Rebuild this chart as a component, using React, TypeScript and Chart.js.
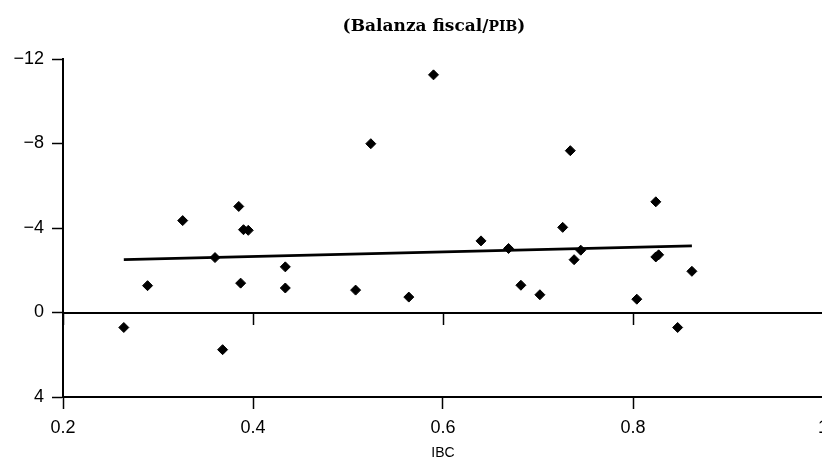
import { useEffect, useRef } from 'react';
import { Chart, registerables } from 'chart.js';

Chart.register(...registerables);

// IBC (x) and fiscal balance / GDP (y, axis reversed)
const ibc = [0.264, 0.289, 0.326, 0.360, 0.368, 0.385, 0.387, 0.390, 0.395, 0.434, 0.434, 0.508, 0.524, 0.564, 0.590, 0.640, 0.669, 0.682, 0.702, 0.726, 0.734, 0.738, 0.745, 0.804, 0.824, 0.824, 0.827, 0.847, 0.862];
const balance = [0.71, -1.27, -4.35, -2.60, 1.76, -5.02, -1.39, -3.92, -3.89, -2.16, -1.16, -1.06, -7.99, -0.73, -11.25, -3.39, -3.03, -1.29, -0.84, -4.03, -7.66, -2.50, -2.95, -0.63, -5.24, -2.63, -2.73, 0.71, -1.95];

const trendIbc = [0.264, 0.862];
const trendBalance = [-2.5, -3.15];

const xTicks = [0.2, 0.4, 0.6, 0.8, 1];
const xTickLabels = ['0.2', '0.4', '0.6', '0.8', '1'];
const yTicks = [-12, -8, -4, 0, 4];
const yTickLabels = ['\u221212', '\u22128', '\u22124', '0', '4'];

const titleMain = '(Balanza fiscal/';
const titleSmallCaps = 'PIB';
const titleEnd = ')';
const xTitle = 'IBC';

const SANS = '"Liberation Sans", Arial, sans-serif';
const SERIF = '"DejaVu Serif", serif';

const zeroLinePlugin = {
  id: 'zeroLine',
  beforeDatasetsDraw(chart: any) {
    const { ctx, scales, chartArea } = chart;
    const x = scales.x;
    const y = scales.y;
    const py = Math.round(y.getPixelForValue(0));
    ctx.save();
    ctx.strokeStyle = '#000';
    ctx.lineWidth = 2;
    ctx.beginPath();
    ctx.moveTo(chartArea.left, py);
    ctx.lineTo(chart.width, py);
    ctx.stroke();
    ctx.lineWidth = 1.5;
    xTicks.forEach((v) => {
      const px = Math.round(x.getPixelForValue(v)) + 0.5;
      ctx.beginPath();
      ctx.moveTo(px, py);
      ctx.lineTo(px, py + 12);
      ctx.stroke();
    });
    ctx.restore();
  },
};

const titlePlugin = {
  id: 'smallCapsTitle',
  afterDraw(chart: any) {
    const { ctx, chartArea } = chart;
    const bigFont = `bold 17px ${SERIF}`;
    const smallFont = `bold 14px ${SERIF}`;
    ctx.save();
    ctx.fillStyle = '#000';
    ctx.textBaseline = 'alphabetic';
    ctx.textAlign = 'left';
    ctx.font = bigFont;
    const w1 = ctx.measureText(titleMain).width;
    const w3 = ctx.measureText(titleEnd).width;
    ctx.font = smallFont;
    const w2 = ctx.measureText(titleSmallCaps).width;
    const total = w1 + w2 + w3;
    const cx = (chartArea.left + chartArea.right) / 2 - 9;
    let xPos = cx - total / 2;
    const baseY = 31;
    ctx.font = bigFont;
    ctx.fillText(titleMain, xPos, baseY);
    xPos += w1;
    ctx.font = smallFont;
    ctx.fillText(titleSmallCaps, xPos, baseY);
    xPos += w2;
    ctx.font = bigFont;
    ctx.fillText(titleEnd, xPos, baseY);
    ctx.restore();
  },
};

export default function App() {
  const canvasRef = useRef<HTMLCanvasElement | null>(null);

  useEffect(() => {
    const canvas = canvasRef.current;
    if (!canvas) return;
    const chart = new Chart(canvas, {
      type: 'scatter',
      data: {
        datasets: [
          {
            type: 'scatter',
            data: ibc.map((v, i) => ({ x: v, y: balance[i] })),
            pointStyle: 'rectRot',
            pointRadius: 5,
            backgroundColor: '#000',
            borderColor: '#000',
            borderWidth: 1,
          },
          {
            type: 'line',
            data: trendIbc.map((v, i) => ({ x: v, y: trendBalance[i] })),
            borderColor: '#000',
            borderWidth: 2.8,
            pointRadius: 0,
            fill: false,
            showLine: true,
          },
        ],
      } as any,
      options: {
        responsive: false,
        animation: false,
        devicePixelRatio: 1,
        layout: { padding: { top: 59, right: 17, left: 0, bottom: 0 } },
        plugins: {
          legend: { display: false },
          tooltip: { enabled: false },
          title: { display: false },
        },
        scales: {
          x: {
            type: 'linear',
            position: 'bottom',
            min: 0.2,
            max: 1,
            afterBuildTicks: (s: any) => {
              s.ticks = xTicks.map((v) => ({ value: v }));
            },
            afterFit: (s: any) => {
              s.height = 65;
            },
            grid: {
              display: true,
              drawOnChartArea: false,
              drawTicks: true,
              tickLength: 12,
              tickColor: '#000',
              tickWidth: 1.5,
            },
            border: { display: true, color: '#000', width: 2 },
            ticks: {
              color: '#000',
              font: { family: SANS, size: 18 },
              padding: 8,
              maxRotation: 0,
              autoSkip: false,
              callback: (v: any) => xTickLabels[xTicks.indexOf(Number(v))] ?? '',
            },
            title: {
              display: true,
              text: xTitle,
              color: '#000',
              font: { family: SANS, size: 14 },
              padding: { top: 0, bottom: 0 },
            },
          },
          y: {
            type: 'linear',
            reverse: true,
            min: -12,
            max: 4,
            afterBuildTicks: (s: any) => {
              s.ticks = yTicks.map((v) => ({ value: v }));
            },
            afterFit: (s: any) => {
              s.width = 63;
            },
            grid: {
              display: true,
              drawOnChartArea: false,
              drawTicks: true,
              tickLength: 11,
              tickColor: '#000',
              tickWidth: 1.5,
            },
            border: { display: true, color: '#000', width: 2 },
            ticks: {
              color: '#000',
              font: { family: SANS, size: 18 },
              padding: 8,
              autoSkip: false,
              callback: (v: any) => yTickLabels[yTicks.indexOf(Number(v))] ?? '',
            },
          },
        },
      } as any,
      plugins: [zeroLinePlugin, titlePlugin],
    });
    return () => {
      chart.destroy();
    };
  }, []);

  return (
    <div
      style={{
        position: 'fixed',
        left: 0,
        top: 0,
        width: 822,
        height: 462,
        overflow: 'hidden',
        background: '#fff',
      }}
    >
      <canvas ref={canvasRef} width={840} height={462} style={{ display: 'block', width: 840, height: 462 }} />
    </div>
  );
}
